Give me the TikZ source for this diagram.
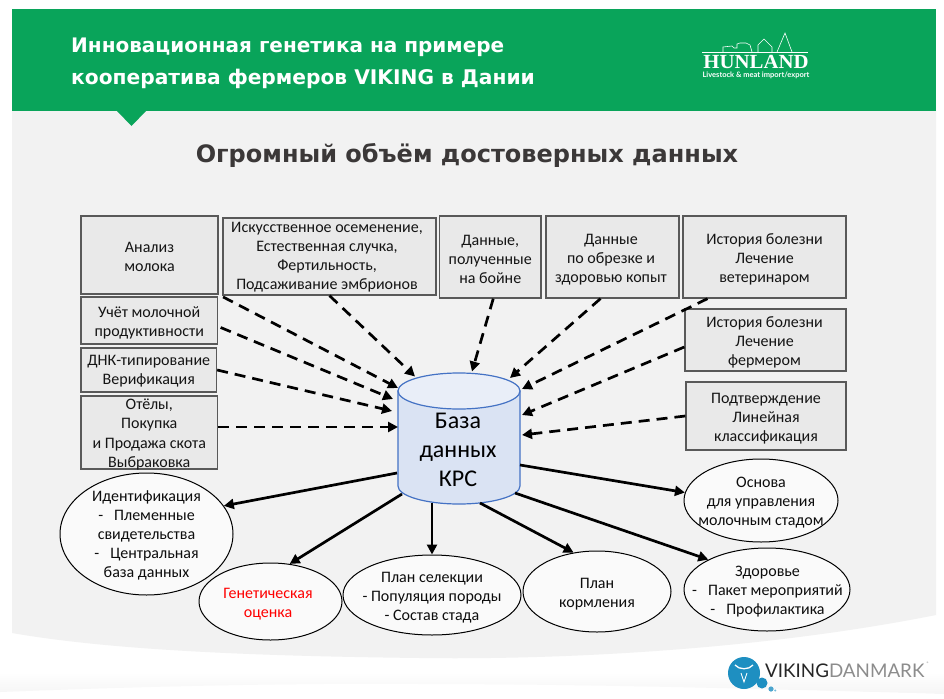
\documentclass[tikz,border=0pt]{standalone}
\usepackage{fontspec}
\usepackage{graphicx}
\setmainfont{Carlito}
\newfontfamily\headfont{DejaVu Sans}
\newfontfamily\logoserif{Liberation Serif}
\newfontfamily\logosans{Lato}
\usetikzlibrary{shapes.geometric,arrows.meta}
\definecolor{hgreen}{HTML}{09A45A}
\definecolor{panelgray}{HTML}{F2F2F2}
\definecolor{boxfill}{HTML}{E9E9E9}
\definecolor{boxline}{HTML}{595959}
\definecolor{dbside}{HTML}{DAE3F3}
\definecolor{dbtop}{HTML}{E9EEF8}
\definecolor{dbline}{HTML}{4472C4}
\definecolor{vikblue}{HTML}{1E8FC1}
\definecolor{titlecol}{HTML}{3B3838}
\tikzset{
  x=1pt,y=-1pt,
  databox/.style={rectangle,draw=boxline,fill=boxfill,line width=1.3pt,inner sep=0pt,align=center,
    text=black!92,font=\fontsize{16}{19.1}\selectfont},
  oval/.style={ellipse,draw=black,fill=white!98!black,line width=1pt,inner sep=0pt},
  ovaltext/.style={align=center,inner sep=0pt,text=black!95,font=\fontsize{16}{19.1}\selectfont},
  inflow/.style={line width=2.7pt,dash pattern=on 11pt off 7pt,-{Triangle[length=10pt,width=10pt]}},
  outflow/.style={line width=2.7pt,-{Triangle[length=10pt,width=10pt]}},
}
\begin{document}
\begin{tikzpicture}
\useasboundingbox (0,0) rectangle (944,698);
% page
\fill[white] (0,0) rectangle (944,698);
\fill[panelgray] (12,100) -- (936,100) -- (936,615) .. controls (760,650) and (560,660) .. (420,658) .. controls (250,656) and (110,650) .. (12,633) -- cycle;
\shade[top color=white,bottom color=black!4] (0,692) .. controls (150,686) and (300,683) .. (420,684) .. controls (600,684) and (800,690) .. (944,694) -- (944,672) -- (0,672) -- cycle;
\fill[white] (0,693) .. controls (150,686) and (300,684) .. (420,685) .. controls (600,685) and (800,690) .. (944,694) -- (944,698) -- (0,698) -- cycle;
\fill[hgreen] (12,9) rectangle (936,111);
\fill[hgreen] (117,111) -- (146,111) -- (131.5,126) -- cycle;
\node[anchor=west,inner sep=0pt,text=white] (head1) at (71,47) {\headfont\bfseries\fontsize{20}{24}\selectfont Инновационная генетика на примере};
\node[anchor=west,inner sep=0pt,text=white] (head2) at (71,79) {\headfont\bfseries\fontsize{20.2}{24}\selectfont кооператива фермеров VIKING в Дании};
\node[inner sep=0pt,text=titlecol] (title) at (467,155) {\headfont\bfseries\fontsize{24}{30}\selectfont Огромный объём достоверных данных};
% Hunland logo
\draw[white,line width=.6pt] (702,52) -- (808,52);
\draw[white,line width=.6pt] (723,52) -- (723,47) -- (732,46) -- (734,48) -- (737,48) -- (737,44) -- (740,43) -- (746,43) -- (750,45) -- (752,52)
  (758,52) -- (758,45) -- (764,39) -- (772,47) -- (772,52)
  (777,52) -- (785,33) -- (792,52);
\node[inner sep=0pt,text=white] (hunland) at (756,62) {\logoserif\bfseries\fontsize{20}{20}\selectfont\scalebox{1.04}[1]{HUNLAND}};
\node[inner sep=0pt,text=white] (hunsub) at (756,75.5) {\logosans\bfseries\fontsize{7.5}{8}\selectfont Livestock \& meat import/export};
% Viking logo
\fill[vikblue] (744,673) circle[radius=16];
\fill[vikblue] (762,683) circle[radius=5.5];
\fill[vikblue!80] (771,689) circle[radius=2.6];
\fill[vikblue!60] (775.3,690.5) circle[radius=1.1];
\draw[white,line width=1.3pt] (735,665) .. controls (739,670) and (749,670) .. (753,665);
\draw[white,line width=.9pt] (741,673) -- (744,682) -- (747,673);
\node[inner sep=0pt,anchor=west] (vik) at (765,670.5) {\logosans\fontsize{18.8}{20}\selectfont\textcolor{black!85}{VIKING}\textcolor{black!45}{DANMARK}};
\node[inner sep=0pt,text=black!45] (reg) at (928,664) {\fontsize{5}{5}\selectfont ®};
% source boxes
\node[databox,minimum width=137pt,minimum height=78pt] (milk) at (149.5,255) {};
\node[databox,draw=none,fill=none] (milkt) at (149.5,256.5) {Анализ\\молока};
\node[databox,minimum width=213pt,minimum height=77pt] (insem) at (329.5,256.5) {};
\node[databox,draw=none,fill=none] (insemt) at (327,257.5) {Искусственное осеменение,\\Естественная случка,\\Фертильность,\\Подсаживание эмбрионов};
\node[databox,minimum width=136.5pt,minimum height=47pt] (yield) at (149.25,320.5) {};
\node[databox,draw=none,fill=none] (yieldt) at (149.25,322.5) {Учёт молочной\\продуктивности};
\node[databox,minimum width=135.5pt,minimum height=44pt] (dna) at (148.75,370) {};
\node[databox,draw=none,fill=none] (dnat) at (148.75,371.5) {ДНК-типирование\\Верификация};
\node[databox,minimum width=136.5pt,minimum height=73pt] (calv) at (149.25,432.5) {};
\node[databox,draw=none,fill=none] (calvt) at (149.25,434.5) {Отёлы,\\Покупка\\и Продажа скота\\Выбраковка};
\node[databox,minimum width=101.5pt,minimum height=82pt] (slaug) at (490.25,257) {};
\node[databox,draw=none,fill=none] (slaugt) at (490.25,259.5) {Данные,\\полученные\\на бойне};
\node[databox,minimum width=133pt,minimum height=82pt] (hoof) at (612.5,257) {};
\node[databox,draw=none,fill=none] (hooft) at (611,259.5) {Данные\\по обрезке и\\здоровью копыт};
\node[databox,minimum width=163pt,minimum height=82pt] (vet) at (764.5,257) {};
\node[databox,draw=none,fill=none] (vett) at (764.5,259.5) {История болезни\\Лечение\\ветеринаром};
\node[databox,minimum width=161pt,minimum height=62pt] (farmer) at (765.5,340) {};
\node[databox,draw=none,fill=none] (farmert) at (764.5,342.5) {История болезни\\Лечение\\фермером};
\node[databox,minimum width=160pt,minimum height=68pt] (conf) at (766,416) {};
\node[databox,draw=none,fill=none] (conft) at (766,418.5) {Подтверждение\\Линейная\\классификация};
% database
\draw[dbline,line width=1.2pt,fill=dbside] (398,391) -- (398,486) arc[start angle=180,end angle=0,x radius=61,y radius=18] -- (520,391) -- cycle;
\draw[dbline,line width=1.2pt,fill=dbtop] (459,391) ellipse[x radius=61,y radius=18];
\node[align=center,inner sep=0pt,font=\fontsize{24}{29}\selectfont,text=black] (db) at (458,450) {База\\данных\\КРС};
\coordinate (dbA) at (398,388);
\coordinate (dbB) at (393,399);
\coordinate (dbC) at (392,411);
\coordinate (dbD) at (398,427);
\coordinate (dbE) at (415,376.5);
\coordinate (dbF) at (472,371.5);
\coordinate (dbG) at (510,378);
\coordinate (dbH) at (522,389);
\coordinate (dbI) at (522,415);
\coordinate (dbJ) at (522,435);
\coordinate (dbK) at (397,473);
\coordinate (dbL) at (402,494);
\coordinate (dbM) at (432,503);
\coordinate (dbN) at (480,503);
\coordinate (dbO) at (515,493);
\coordinate (dbP) at (520,465);
% result ovals
\node[oval,minimum width=173pt,minimum height=122pt] (ident) at (146.5,534) {};
\node[ovaltext] (identt) at (146.5,535.5) {Идентификация\\-\hspace{11pt}Племенные\\свидетельства\\-\hspace{11pt}Центральная\\база данных};
\node[oval,minimum width=143pt,minimum height=77pt] (genet) at (270.5,601.5) {};
\node[ovaltext,text=red] (genett) at (268,604) {Генетическая\\оценка};
\node[oval,minimum width=178pt,minimum height=80pt] (breed) at (432,595) {};
\node[ovaltext] (breedt) at (432,597.5) {План селекции\\- Популяция породы\\- Состав стада};
\node[oval,minimum width=148pt,minimum height=81pt] (feed) at (597,591.5) {};
\node[ovaltext] (feedt) at (597,594) {План\\кормления};
\node[oval,minimum width=166pt,minimum height=83pt] (health) at (767,589.5) {};
\node[ovaltext] (healtht) at (767.5,592) {Здоровье\\-\hspace{11pt}Пакет мероприятий\\-\hspace{11pt}Профилактика};
\node[oval,minimum width=154pt,minimum height=83pt] (herd) at (761,500.5) {};
\node[ovaltext] (herdt) at (761,503) {Основа\\для управления\\молочным стадом};
% connectors
\draw[inflow,shorten <=5pt] (milk.south east) -- (dbA);
\draw[inflow] ([xshift=2.5pt,yshift=-7pt]yield.east) -- (dbB);
\draw[inflow] (dna.east) -- (dbC);
\draw[inflow] ([yshift=5.5pt]calv.east) -- (dbD);
\draw[inflow] (insem.south) -- (dbE);
\draw[inflow] ([xshift=3pt]slaug.south) -- (dbF);
\draw[inflow] ([xshift=-12pt]hoof.south) -- (dbG);
\draw[inflow] ([xshift=-57pt]vet.south) -- (dbH);
\draw[inflow] ([yshift=-7pt]farmer.west) -- (dbI);
\draw[inflow] (conf.west) -- (dbJ);
\draw[outflow] (dbK) -- (ident.20);
\draw[outflow] (dbL) -- (genet.63);
\draw[outflow] (dbM) -- (breed.north);
\draw[outflow] (dbN) -- (feed.121);
\draw[outflow] (dbO) -- (health.153);
\draw[outflow] (dbP) -- (herd.174);
\end{tikzpicture}
\end{document}
